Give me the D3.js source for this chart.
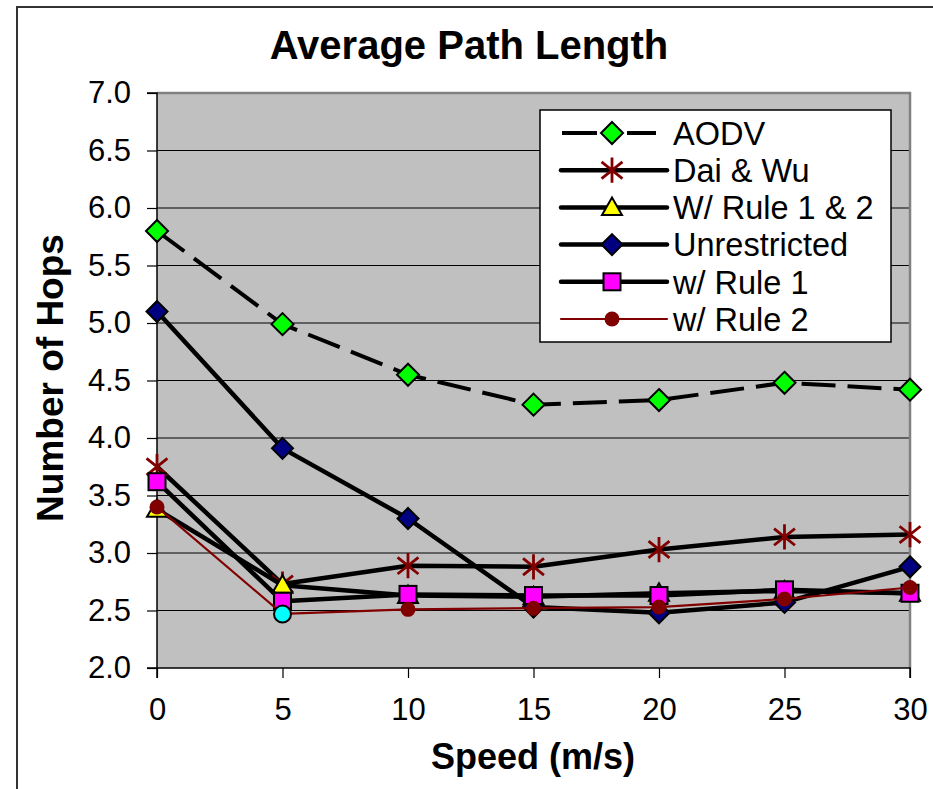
<!DOCTYPE html>
<html>
<head>
<meta charset="utf-8">
<script src="https://cdn.jsdelivr.net/npm/d3@7"></script>
<style>
  html, body { margin: 0; padding: 0; background: #fff; }
  svg { display: block; font-family: "Liberation Sans", Arial, sans-serif; }
</style>
</head>
<body>
<svg id="chart" width="933" height="789"></svg>
<script>
// Speeds on the x axis (m/s)
const speeds = [0, 5, 10, 15, 20, 25, 30];

// Average path length (hops) for each scheme
const aodv         = [5.80, 4.99, 4.55, 4.29, 4.33, 4.48, 4.42];
const daiWu        = [3.75, 2.73, 2.89, 2.88, 3.03, 3.14, 3.16];
const rule12       = [3.38, 2.72, 2.63, 2.62, 2.65, 2.67, 2.65];
const unrestricted = [5.10, 3.91, 3.30, 2.53, 2.48, 2.57, 2.88];
const rule1        = [3.62, 2.58, 2.64, 2.63, 2.63, 2.68, 2.65];
const rule2        = [3.40, 2.47, 2.51, 2.52, 2.53, 2.60, 2.70];

const seriesNames = ["AODV", "Dai & Wu", "W/ Rule 1 & 2", "Unrestricted", "w/ Rule 1", "w/ Rule 2"];
const yTicks = [2.0, 2.5, 3.0, 3.5, 4.0, 4.5, 5.0, 5.5, 6.0, 6.5, 7.0];
const xTicks = [0, 5, 10, 15, 20, 25, 30];

// Rule 2 point drawn with a cyan marker
const rule2HighlightSpeed = 5;

const series = [
  { name: seriesNames[0], values: aodv,         marker: "diamond",  fill: "#00ff00", line: "#000", width: 4,   dash: "34,12", size: 11 },
  { name: seriesNames[1], values: daiWu,        marker: "asterisk", fill: "#800000", line: "#000", width: 4.5, dash: null,    size: 11 },
  { name: seriesNames[2], values: rule12,       marker: "triangle", fill: "#ffff00", line: "#000", width: 4.5, dash: null,    size: 10 },
  { name: seriesNames[3], values: unrestricted, marker: "diamond",  fill: "#000080", line: "#000", width: 4.5, dash: null,    size: 10.5 },
  { name: seriesNames[4], values: rule1,        marker: "square",   fill: "#ff00ff", line: "#000", width: 4.5, dash: null,    size: 8.5 },
  { name: seriesNames[5], values: rule2,        marker: "circle",   fill: "#800000", line: "#800000", width: 2.2, dash: null, size: 7.5 }
];

const svg = d3.select("#chart");
const plot = { left: 157, right: 910, top: 93, bottom: 668 };

const x = d3.scaleLinear().domain([0, 30]).range([plot.left, plot.right]);
const y = d3.scaleLinear().domain([2, 7]).range([plot.bottom, plot.top]);

// Outer chart frame (top and left edges)
svg.append("path")
  .attr("d", `M17,789 L17,7 L933,7`)
  .attr("fill", "none").attr("stroke", "#333").attr("stroke-width", 2);

// Plot area
svg.append("rect")
  .attr("x", plot.left).attr("y", plot.top)
  .attr("width", plot.right - plot.left).attr("height", plot.bottom - plot.top)
  .attr("fill", "#c0c0c0");

// Horizontal gridlines
svg.append("g").selectAll("line")
  .data(yTicks.filter(t => t > 2 && t < 7))
  .join("line")
  .attr("x1", plot.left).attr("x2", plot.right)
  .attr("y1", d => y(d)).attr("y2", d => y(d))
  .attr("stroke", "#000").attr("stroke-width", 1);

// Plot border (top and right)
svg.append("path")
  .attr("d", `M${plot.left},${plot.top} L${plot.right},${plot.top} L${plot.right},${plot.bottom}`)
  .attr("fill", "none").attr("stroke", "#808080").attr("stroke-width", 2.5);

// Axes
const yAxis = d3.axisLeft(y).tickValues(yTicks).tickFormat(d3.format(".1f")).tickSize(10).tickPadding(16);
const xAxis = d3.axisBottom(x).tickValues(xTicks).tickFormat(d3.format("d")).tickSize(10).tickPadding(20);

const gy = svg.append("g").attr("transform", `translate(${plot.left},0)`).call(yAxis);
const gx = svg.append("g").attr("transform", `translate(0,${plot.bottom})`).call(xAxis);

[gx, gy].forEach(g => {
  g.select(".domain").attr("stroke", "#000").attr("stroke-width", 1.5);
  g.selectAll(".tick line").attr("stroke", "#000").attr("stroke-width", 1.2);
  g.selectAll(".tick text").attr("fill", "#000").attr("font-size", 31)
    .attr("font-family", "'Liberation Sans', Arial, sans-serif");
});
gy.select(".domain").attr("d", `M-10,${plot.top}H0V${plot.bottom}H-10`);
gx.select(".domain").attr("d", `M${plot.left},10V0H${plot.right}V10`);

// Marker drawing
function drawMarker(g, type, size, fill) {
  if (type === "diamond") {
    g.append("path").attr("d", `M0,${-size}L${size},0L0,${size}L${-size},0Z`)
      .attr("fill", fill).attr("stroke", "#000").attr("stroke-width", 2);
  } else if (type === "square") {
    g.append("rect").attr("x", -size).attr("y", -size).attr("width", 2 * size).attr("height", 2 * size)
      .attr("fill", fill).attr("stroke", "#000").attr("stroke-width", 2);
  } else if (type === "triangle") {
    g.append("path").attr("d", `M0,${-size}L${size},${size * 0.75}L${-size},${size * 0.75}Z`)
      .attr("fill", fill).attr("stroke", "#000").attr("stroke-width", 2).attr("stroke-linejoin", "miter");
  } else if (type === "circle") {
    g.append("circle").attr("r", size).attr("fill", fill);
  } else if (type === "asterisk") {
    const a = size * 0.95;
    g.append("path")
      .attr("d", `M0,${-size * 1.15}V${size * 1.15}M${-a},${-a * 0.8}L${a},${a * 0.8}M${-a},${a * 0.8}L${a},${-a * 0.8}`)
      .attr("stroke", fill).attr("stroke-width", 2.8).attr("fill", "none");
  }
}

const lineGen = d3.line().x(d => x(d.s)).y(d => y(d.v));

// Lines first, markers on top; later series drawn over earlier ones
series.forEach(sr => {
  const pts = speeds.map((s, i) => ({ s, v: sr.values[i] }));
  svg.append("path")
    .datum(pts)
    .attr("d", lineGen)
    .attr("fill", "none")
    .attr("stroke", sr.line)
    .attr("stroke-width", sr.width)
    .attr("stroke-dasharray", sr.dash)
    .attr("stroke-linejoin", "round");
  pts.forEach(p => {
    const g = svg.append("g").attr("transform", `translate(${x(p.s)},${y(p.v)})`);
    if (sr.marker === "circle" && p.s === rule2HighlightSpeed) {
      g.append("circle").attr("r", 8.5).attr("fill", "#00ffff").attr("stroke", "#000").attr("stroke-width", 2);
    } else {
      drawMarker(g, sr.marker, sr.size, sr.fill);
    }
  });
});

// Title and axis titles
svg.append("text").attr("x", 469).attr("y", 59).attr("text-anchor", "middle")
  .attr("font-size", 40).attr("font-weight", "bold").text("Average Path Length");
svg.append("text").attr("x", 533).attr("y", 769).attr("text-anchor", "middle")
  .attr("font-size", 36).attr("font-weight", "bold").text("Speed (m/s)");
svg.append("text").attr("transform", "translate(63,378) rotate(-90)").attr("text-anchor", "middle")
  .attr("font-size", 37).attr("font-weight", "bold").text("Number of Hops");

// Legend
const legend = svg.append("g");
legend.append("rect").attr("x", 540).attr("y", 110).attr("width", 351).attr("height", 232)
  .attr("fill", "#fff").attr("stroke", "#000").attr("stroke-width", 1.5);

series.forEach((sr, i) => {
  const cy = 133 + i * 37.2;
  legend.append("line")
    .attr("x1", sr.dash ? 562 : 561).attr("x2", sr.dash ? 656 : 667)
    .attr("y1", cy).attr("y2", cy)
    .attr("stroke", sr.line).attr("stroke-width", sr.width)
    .attr("stroke-dasharray", sr.dash ? "35,30" : null)
    .attr("stroke-linecap", sr.dash ? "butt" : "round");
  const g = legend.append("g").attr("transform", `translate(612,${cy})`);
  drawMarker(g, sr.marker, sr.size, sr.fill);
  legend.append("text").attr("x", 673).attr("y", cy).attr("dy", "0.36em")
    .attr("font-size", 32.5).text(sr.name);
});
</script>
</body>
</html>
